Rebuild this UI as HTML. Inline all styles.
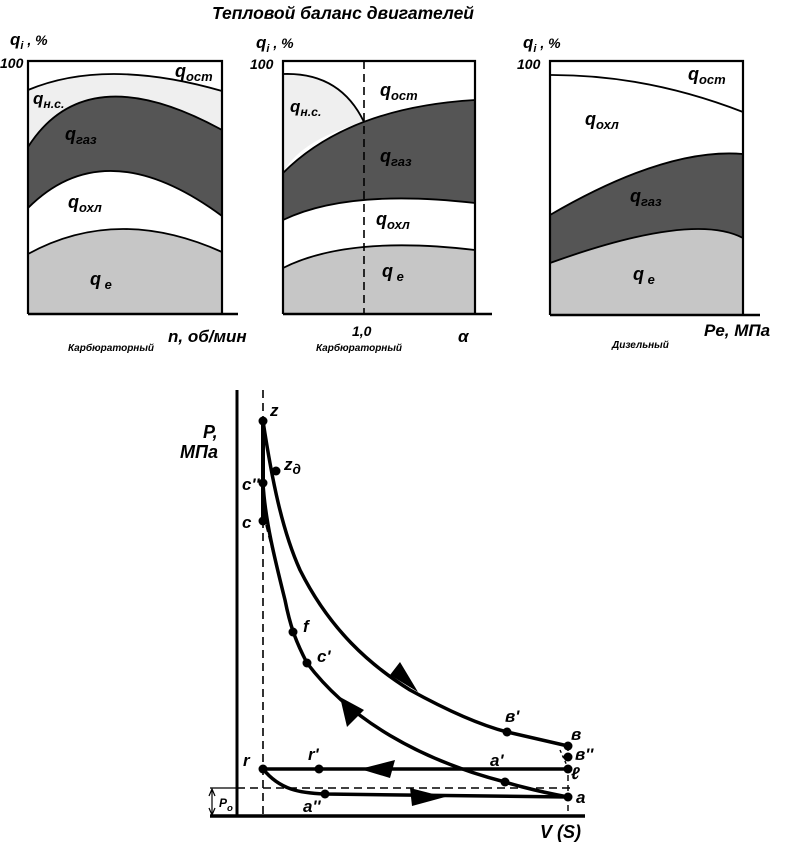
<!DOCTYPE html>
<html><head><meta charset="utf-8"><style>
html,body{margin:0;padding:0;background:#fff}
svg{display:block}
text{font-family:"Liberation Sans","DejaVu Sans",sans-serif;font-weight:bold;font-style:italic;fill:#000}
</style></head><body>
<svg id="s" width="786" height="846" viewBox="0 0 786 846">
<text x="343" y="19" font-size="17.5" text-anchor="middle">Тепловой баланс двигателей</text>
<g id="panels"></g>
<g id="pv"></g>
</svg>
<script>
// Panel curves: [x-fraction, y-pixel] control triples (start, peak, end)
const p1Ost=[[0,90],[0.45,74],[1,91]];
const p1Gaz=[[0,147],[0.4,97],[1,130]];
const p1Ohl=[[0,208],[0.45,171],[1,216]];
const p1E=[[0,254],[0.48,229],[1,252]];
const p2Gaz=[[0,173],[0.42,122],[1,100]];
const p2Ohl=[[0,220],[0.42,200],[1,203]];
const p2E=[[0,268],[0.42,247],[1,250]];
const p3Ost=[[0,75],[0.5,84],[1,112]];
const p3Gaz=[[0,215],[0.55,166],[1,154]];
const p3E=[[0,263],[0.62,231],[1,238]];
const NS="http://www.w3.org/2000/svg";
function mk(tag,attrs,parent){const e=document.createElementNS(NS,tag);for(const k in attrs)e.setAttribute(k,attrs[k]);(parent||document.getElementById('s')).appendChild(e);return e;}
function curve(c,x0,w){
  const X=v=>x0+v*w;const [a,b,d]=c;
  const cx=2*X(b[0])-(X(a[0])+X(d[0]))/2, cy=2*b[1]-(a[1]+d[1])/2;
  return {d:`M${X(a[0])},${a[1]} Q${cx},${cy} ${X(d[0])},${d[1]}`, rev:`L${X(d[0])},${d[1]} Q${cx},${cy} ${X(a[0])},${a[1]}`, s:[X(a[0]),a[1]], e:[X(d[0]),d[1]]};
}
const G=document.getElementById('panels');
function band(top,bot,fill,name,x0,w,ybot){
  let d;
  const t=top?curve(top,x0,w):null;
  if(bot){const b=curve(bot,x0,w);
    d=(t?t.d:`M${x0},61 L${x0+w},61`)+` L${b.e[0]},${b.e[1]}`+b.rev.slice(b.rev.indexOf('Q')-1).replace(/^ ?/,' ')+' Z';
  } else d=t.d+` L${x0+w},${ybot} L${x0},${ybot} Z`;
  const e=mk('path',{d:d,fill:fill,stroke:'none'},G);
  
  
}
function line(c,x0,w,name){const e=mk('path',{d:curve(c,x0,w).d,fill:'none',stroke:'#000','stroke-width':1.8},G);
  
  }
function frame(x0,w,yb,ext){
  mk('path',{d:`M${x0},${yb} L${x0},61 L${x0+w},61 L${x0+w},${yb}`,fill:'none',stroke:'#000','stroke-width':2.2},G);
  mk('line',{x1:x0,y1:yb,x2:x0+w+ext,y2:yb,stroke:'#000','stroke-width':2.5},G);
}
function T(x,y,s,sz,name,sub){const t=mk('text',{x:x,y:y,'font-size':sz},G);t.textContent=s;
  if(sub){const ts=mk('tspan',{'font-size':sz*0.72,dy:4},t);ts.textContent=sub;}
  return t;}
// Panel 1
(function(){const x0=28,w=194,yb=314;
 band(p1Ost,p1Gaz,'#efefef','p1-q-ns-band',x0,w);
 band(p1Gaz,p1Ohl,'#555','p1-q-gaz-band',x0,w);
 band(p1E,null,'#c6c6c6','p1-q-e-band',x0,w,yb);
 [p1Ost,p1Gaz,p1Ohl,p1E].forEach((c,i)=>line(c,x0,w,'p1-curve-'+i));
 frame(x0,w,yb,16);
 T(10,45,'q',17,'p1-y-title').innerHTML='q<tspan font-size="11" dy="4">i</tspan><tspan dy="-4" font-size="14"> , %</tspan>';
 T(0,68,'100',14,'p1-y-100');
 T(175,77,'q',18,'p1-label-ost','ост');T(33,104,'q',17,'p1-label-ns','н.с.');
 T(65,140,'q',18,'p1-label-gaz','газ');T(68,208,'q',18,'p1-label-ohl','охл');
 T(90,285,'q',18,'p1-label-e',' e');
 T(168,342,'n, об/мин',17,'p1-x-title');T(68,351,'Карбюраторный',10,'p1-engine-type');
})();
// Panel 2
(function(){const x0=283,w=192,yb=314;
 const e=mk('path',{d:`M${x0},74 Q340,72 364,122 Q300,140 ${x0},173 Z`,fill:'#efefef'},G);
 
 band(p2Gaz,p2Ohl,'#555','p2-q-gaz-band',x0,w);
 band(p2E,null,'#c6c6c6','p2-q-e-band',x0,w,yb);
 mk('path',{d:`M${x0},74 Q340,72 364,122`,fill:'none',stroke:'#000','stroke-width':1.8},G);
 [p2Gaz,p2Ohl,p2E].forEach((c,i)=>line(c,x0,w,'p2-curve-'+i));
 mk('line',{x1:364,y1:61,x2:364,y2:314,stroke:'#000','stroke-width':1.6,'stroke-dasharray':'8,5'},G);
 frame(x0,w,yb,17);
 T(256,48,'q',17,'p2-y-title').innerHTML='q<tspan font-size="11" dy="4">i</tspan><tspan dy="-4" font-size="14"> , %</tspan>';
 T(250,69,'100',14,'p2-y-100');
 T(380,96,'q',18,'p2-label-ost','ост');T(290,112,'q',17,'p2-label-ns','н.с.');
 T(380,162,'q',18,'p2-label-gaz','газ');T(376,225,'q',18,'p2-label-ohl','охл');
 T(382,277,'q',18,'p2-label-e',' e');
 T(352,336,'1,0',14,'p2-x-tick-1');T(316,351,'Карбюраторный',10,'p2-engine-type');
 const a=T(458,342,'α',17,'p2-x-title');a.setAttribute('font-family','Liberation Serif,serif');a.setAttribute('font-weight','normal');
})();
// Panel 3
(function(){const x0=550,w=193,yb=315;
 band(p3Gaz,p3E,'#555','p3-q-gaz-band',x0,w);
 band(p3E,null,'#c6c6c6','p3-q-e-band',x0,w,yb);
 [p3Ost,p3Gaz,p3E].forEach((c,i)=>line(c,x0,w,'p3-curve-'+i));
 frame(x0,w,yb,17);
 T(523,48,'q',17,'p3-y-title').innerHTML='q<tspan font-size="11" dy="4">i</tspan><tspan dy="-4" font-size="14"> , %</tspan>';
 T(517,69,'100',14,'p3-y-100');
 T(688,80,'q',18,'p3-label-ost','ост');T(585,125,'q',18,'p3-label-ohl','охл');
 T(630,202,'q',18,'p3-label-gaz','газ');T(633,280,'q',18,'p3-label-e',' e');
 T(704,336,'Pe, МПа',17,'p3-x-title');T(612,348,'Дизельный',10,'p3-engine-type');
})();
// PV diagram
const pts={z:[263,421],zd:[276,471],c2:[263,483],c:[263,521],f:[293,632],c1:[307,663],b1:[507,732],b:[568,746],b2:[568,757],l:[568,769],r:[263,769],r1:[319,769],a1:[505,782],a:[568,797],a2:[325,794]};
const P=document.getElementById('pv');
function pl(d,w,extra,name){const e=mk('path',Object.assign({d:d,fill:'none',stroke:'#000','stroke-width':w},extra||{}),P);
 }
pl('M237,390 L237,817',3,{},'y-axis');
pl('M210,816 L585,816',3.5,{},'x-axis');
pl('M263,390 L263,816',1.6,{'stroke-dasharray':'8,5'},'tdc-dashed-line');
pl('M568,745 L568,816',1.4,{'stroke-dasharray':'6,4'},'bdc-dashed-line');
pl('M210,788 L237,788',1.2,{},'p0-tick');
pl('M237,788 L570,788',1.6,{'stroke-dasharray':'8,5'},'p0-dashed-line');
pl('M212,790 L212,814',1.2,{},'p0-bracket');
mk('path',{d:'M209,796 L212,789 L215,796 M209,808 L212,815 L215,808',fill:'none',stroke:'#000','stroke-width':1.2},P);
pl('M263,421 L263,521',4,{},'combustion-vertical');
pl('M263,421 C272,480 282,530 300,570 C330,630 370,665 410,690 C450,712 480,725 507,732 L568,746',3.5,{},'expansion-curve');
pl('M568,797 C530,790 505,782 505,782 C420,760 350,720 307,663 C295,640 290,625 285,600 C275,560 265,520 263,483',3.5,{},'compression-curve');
pl('M266,525 L293,632',1.6,{'stroke-dasharray':'7,4'},'c-f-dashed');
pl('M263,769 L568,769',3.5,{},'exhaust-line');
pl('M263,769 C280,790 300,793 325,794 L568,797',3.5,{},'intake-line');
pl('M560,750 L568,768',1.4,{'stroke-dasharray':'3,3'},'b-l-dotted');
[['M390,675 L418,692 L400,662 Z','expansion-arrow'],['M347,727 L340,697 L364,710 Z','compression-arrow'],['M360,769 L395,760 L390,778 Z','exhaust-arrow'],['M445,797 L410,788 L412,806 Z','intake-arrow']].forEach(a=>{const e=mk('path',{d:a[0],fill:'#000'},P);});
for(const k in pts){const e=mk('circle',{cx:pts[k][0],cy:pts[k][1],r:4.5,fill:'#000'},P);}
function L(x,y,s,sz,name,sub){const t=mk('text',{x:x,y:y,'font-size':sz},P);t.textContent=s;
 if(sub){const ts=mk('tspan',{'font-size':sz*0.8,dy:4},t);ts.textContent=sub;}
 }
L(203,438,'P,',18,'y-axis-title-p');L(180,458,'МПа',18,'y-axis-title-unit');
L(270,416,'z',17,'label-z');L(284,470,'z',17,'label-zd','д');L(242,490,"c''",17,'label-c2');
L(242,528,'c',17,'label-c');L(303,632,'f',17,'label-f');L(317,662,"c'",17,'label-c1');
L(505,722,"в'",17,'label-b1');L(571,740,'в',17,'label-b');L(575,760,"в''",17,'label-b2');
L(571,779,'ℓ',17,'label-l');L(243,766,'r',17,'label-r');L(308,760,"r'",17,'label-r1');
L(490,766,"a'",17,'label-a1');L(576,803,'a',17,'label-a');L(303,812,"a''",17,'label-a2');
L(219,807,'P',12,'label-p0','o');L(540,838,'V (S)',18,'x-axis-title');
</script>
</body></html>
